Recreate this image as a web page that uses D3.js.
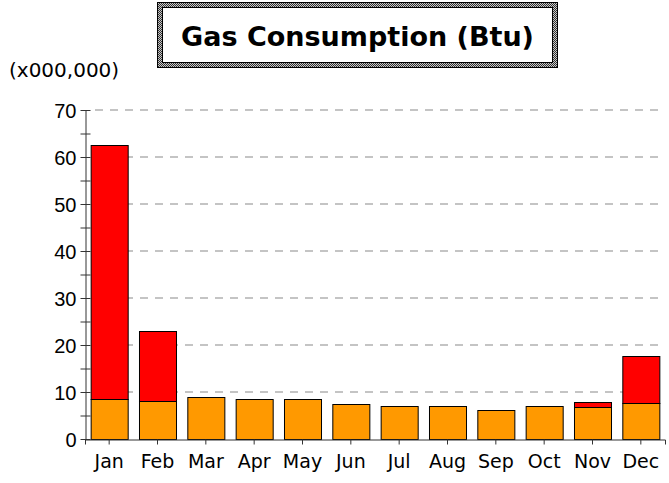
<!DOCTYPE html>
<html>
<head>
<meta charset="utf-8">
<script src="https://cdn.jsdelivr.net/npm/d3@7"></script>
<style>
  body { margin: 0; background: #fff; }
  svg { display: block; font-family: "DejaVu Sans", Verdana, sans-serif; }
</style>
</head>
<body>
<div id="chart"></div>
<script>
const months = ['Jan', 'Feb', 'Mar', 'Apr', 'May', 'Jun', 'Jul', 'Aug', 'Sep', 'Oct', 'Nov', 'Dec'];
const baseUse = [8.5, 8.0, 8.9, 8.6, 8.6, 7.4, 7.0, 7.0, 6.1, 7.0, 6.9, 7.7];
const heatUse = [54.1, 15.0, 0, 0, 0, 0, 0, 0, 0, 0, 1.0, 10.0];
const yTicks = [0, 10, 20, 30, 40, 50, 60, 70];

const width = 669;
const height = 483;
const margin = { top: 110, bottom: 44, left: 85, right: 4 };

const svg = d3.select('#chart')
  .append('svg')
  .attr('width', width)
  .attr('height', height);

// checker pattern for the title frame
const defs = svg.append('defs');
const pat = defs.append('pattern')
  .attr('id', 'dither')
  .attr('width', 2).attr('height', 2)
  .attr('patternUnits', 'userSpaceOnUse');
pat.append('rect').attr('width', 2).attr('height', 2).attr('fill', '#c8c8c8');
pat.append('rect').attr('width', 1).attr('height', 1).attr('fill', '#303030');
pat.append('rect').attr('x', 1).attr('y', 1).attr('width', 1).attr('height', 1).attr('fill', '#303030');

const x = d3.scaleBand()
  .domain(months)
  .range([margin.left, width - margin.right])
  .paddingInner(0.234)
  .paddingOuter(0.117);

const y = d3.scaleLinear()
  .domain([0, 70])
  .range([height - margin.bottom, margin.top]);

// gridlines
svg.append('g')
  .selectAll('line')
  .data(yTicks.filter(d => d > 0))
  .join('line')
    .attr('x1', margin.left + 10)
    .attr('x2', width - margin.right)
    .attr('y1', d => y(d))
    .attr('y2', d => y(d))
    .attr('stroke', '#c4c4c4')
    .attr('stroke-width', 2)
    .attr('stroke-dasharray', '8,7');

const data = months.map((m, i) => ({ month: m, base: baseUse[i], heat: heatUse[i] }));
const series = d3.stack().keys(['base', 'heat'])(data);
const colors = { base: '#ff9900', heat: '#ff0000' };

svg.append('g')
  .selectAll('g')
  .data(series)
  .join('g')
    .attr('fill', d => colors[d.key])
  .selectAll('rect')
  .data(d => d.filter(p => p[1] > p[0]))
  .join('rect')
    .attr('x', d => x(d.data.month) + 0.5)
    .attr('y', d => Math.round(y(d[1])) + 0.5)
    .attr('width', x.bandwidth())
    .attr('height', d => Math.round(y(d[0])) - Math.round(y(d[1])))
    .attr('stroke', '#000')
    .attr('stroke-width', 1);

// y axis
const yAxisG = svg.append('g')
  .attr('transform', `translate(${margin.left + 0.5},0)`);
yAxisG.call(d3.axisLeft(y).tickValues(d3.range(0, 71, 5)).tickSize(0).tickFormat(''));
yAxisG.select('.domain').attr('stroke', '#333');
yAxisG.selectAll('.tick line')
  .attr('x1', -5).attr('x2', 5)
  .attr('stroke', '#333');
yAxisG.selectAll('.tick')
  .filter(d => yTicks.includes(d))
  .append('text')
    .attr('x', -9)
    .attr('dy', '0.36em')
    .attr('text-anchor', 'end')
    .attr('fill', '#000')
    .attr('font-size', 20)
    .text(d => d);

// x axis
const xAxisG = svg.append('g')
  .attr('transform', `translate(0,${height - margin.bottom + 0.5})`)
  .call(d3.axisBottom(x).tickSizeOuter(0).tickSize(5).tickPadding(10));
xAxisG.select('.domain').attr('stroke', '#333');
xAxisG.selectAll('.tick line').attr('stroke', '#333');
xAxisG.selectAll('.tick text')
  .attr('font-size', 19)
  .attr('font-family', '"DejaVu Sans", Verdana, sans-serif')
  .attr('fill', '#000');

// unit label
svg.append('text')
  .attr('x', 9)
  .attr('y', 77)
  .attr('font-size', 20)
  .text('(x000,000)');

// title frame
svg.append('rect')
  .attr('x', 157.5).attr('y', 2.5)
  .attr('width', 400).attr('height', 65)
  .attr('fill', 'url(#dither)')
  .attr('stroke', '#000');
svg.append('rect')
  .attr('x', 162.5).attr('y', 7.5)
  .attr('width', 390).attr('height', 55)
  .attr('fill', '#fff')
  .attr('stroke', '#000');
svg.append('text')
  .attr('x', 357.5)
  .attr('y', 46)
  .attr('text-anchor', 'middle')
  .attr('font-size', 27)
  .attr('font-weight', 'bold')
  .text('Gas Consumption (Btu)');
</script>
</body>
</html>
